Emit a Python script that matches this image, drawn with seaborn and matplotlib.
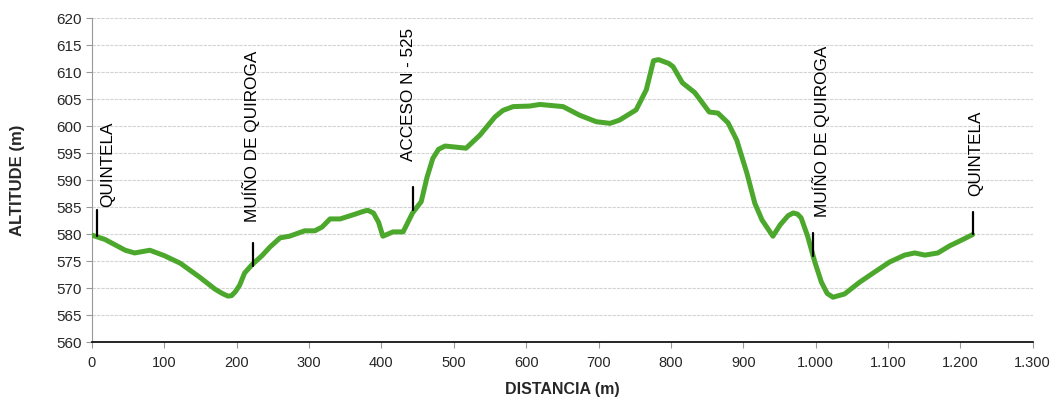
import seaborn as sns
import pandas as pd
import matplotlib.pyplot as plt

# perfil del recorrido (distancia en m, altitud en m)
distancia = [0, 18, 46, 59, 80, 100, 122, 149, 170, 180, 188, 193, 198, 204, 211, 221, 235, 246,
             260, 273, 294, 308, 318, 329, 343, 364, 375, 381, 389, 396, 402, 416, 430, 443,
             455, 463, 471, 479, 488, 517, 536, 557, 568, 582, 605, 619, 651, 674, 697, 716, 729, 752,
             766, 776, 783, 789, 797, 803, 816, 833, 853, 865, 879, 891, 905, 916, 926, 941, 951,
             962, 969, 975, 980, 989, 999, 1008, 1016, 1024, 1040, 1061, 1082, 1102, 1123, 1137, 1151,
             1169, 1185, 1199, 1217]
altitud = [579.8, 579.0, 577.0, 576.5, 577.0, 576.0, 574.6, 572.0, 569.8, 569.0, 568.5, 568.6, 569.3,
           570.5, 572.8, 574.3, 576.0, 577.6, 579.3, 579.6, 580.6, 580.6, 581.3, 582.8,
           582.8, 583.7, 584.2, 584.4, 583.9, 582.2, 579.6, 580.4, 580.4, 583.9, 586.0, 590.5, 594.0,
           595.7, 596.3, 595.9, 598.3, 601.7, 602.9, 603.6, 603.7, 604.0, 603.6, 602.0, 600.8, 600.5,
           601.1, 603.0, 606.7, 612.1, 612.3, 612.0, 611.6, 611.0, 608.0, 606.2, 602.6, 602.4, 600.6,
           597.4, 591.3, 585.7, 582.6, 579.6, 581.7, 583.4, 583.9, 583.7, 583.0, 579.6, 574.8, 571.1,
           569.0, 568.3, 568.9, 571.1, 573.0, 574.8, 576.1, 576.5, 576.1, 576.5, 577.8, 578.7,
           579.9]

# puntos de referencia
lugares = ["QUINTELA", "MUÍÑO DE QUIROGA", "ACCESO N - 525", "MUÍÑO DE QUIROGA", "QUINTELA"]
lugar_x = [7, 222, 443, 997, 1218]
lugar_y0 = [579.6, 574.1, 584.4, 575.9, 580.0]
lugar_y1 = [584.4, 578.3, 588.7, 580.2, 584.0]
texto_x = [22, 220, 437, 1007, 1221]
texto_y = [585.0, 582.2, 593.5, 583.1, 587.0]

df = pd.DataFrame({"distancia": distancia, "altitud": altitud})

sns.set_style("white")
plt.rcParams['font.family'] = ['Liberation Sans', 'DejaVu Sans']

fig = plt.figure(figsize=(10.57, 4.01), dpi=100)
ax = fig.add_axes([0.087, 0.147, 0.890, 0.808])

sns.lineplot(data=df, x="distancia", y="altitud", color="#4ca82c", linewidth=3.6, ax=ax,
             solid_joinstyle="round", solid_capstyle="round", zorder=3)

for x, y0, y1 in zip(lugar_x, lugar_y0, lugar_y1):
    ax.plot([x, x], [y0, y1], color="black", linewidth=1.6, zorder=4)
for nombre, tx, ty in zip(lugares, texto_x, texto_y):
    ax.text(tx, ty, nombre, rotation=90, ha="center", va="bottom",
            fontsize=12.3, color="black")

ax.set_xlim(0, 1300)
ax.set_ylim(560, 620)
ax.set_xticks(range(0, 1301, 100))
ax.set_xticklabels([f"{v:,}".replace(",", ".") for v in range(0, 1301, 100)], fontsize=10.5)
ax.set_yticks(range(560, 621, 5))
ax.tick_params(axis="y", labelsize=11, length=4, color="#999999", direction="out", left=True)
ax.tick_params(axis="x", length=4, color="#999999", direction="out", bottom=True, pad=6)
ax.yaxis.grid(True, color="#d4d4d4", linestyle=(0, (3, 1)), linewidth=0.8)
ax.set_axisbelow(True)

for s in ["top", "right"]:
    ax.spines[s].set_visible(False)
ax.spines["left"].set_color("#999999")
ax.spines["bottom"].set_color("black")
ax.spines["bottom"].set_linewidth(1.2)

ax.set_xlabel("DISTANCIA (m)", fontsize=11.5, fontweight="bold", labelpad=9)
ax.set_ylabel("ALTITUDE (m)", fontsize=12, fontweight="bold", labelpad=22)

fig.savefig("out.png", dpi=100)
